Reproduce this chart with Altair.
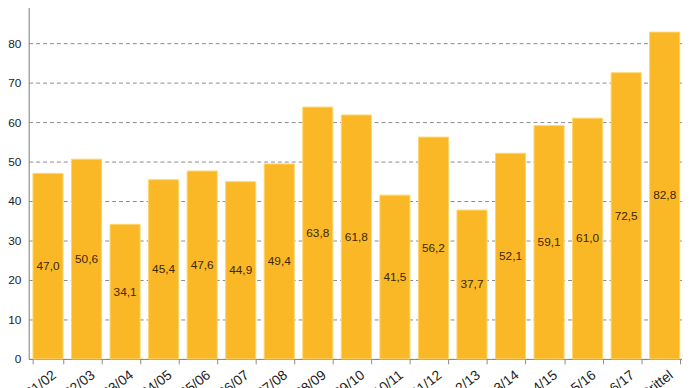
import altair as alt
import pandas as pd

seasons = ["2001/02", "2002/03", "2003/04", "2004/05", "2005/06", "2006/07",
           "2007/08", "2008/09", "2009/10", "2010/11", "2011/12", "2012/13",
           "2013/14", "2014/15", "2015/16", "2016/17", "Drittel"]
values = [47.0, 50.6, 34.1, 45.4, 47.6, 44.9, 49.4, 63.8, 61.8, 41.5,
          56.2, 37.7, 52.1, 59.1, 61.0, 72.5, 82.8]
y_ticks = [0, 10, 20, 30, 40, 50, 60, 70, 80, 90]

df = pd.DataFrame({
    "season": seasons,
    "value": values,
    "label": [f"{v:.1f}".replace(".", ",") for v in values],
})
df["half"] = df["value"] / 2

xscale = alt.Scale(paddingInner=0.22, paddingOuter=0.11, range=[0, 664])
yscale = alt.Scale(domain=[0, 90], nice=False, zero=True)

x_axis = alt.Axis(labelAngle=-38, tickBand="extent", labelFontSize=14,
                  labelColor="#222", labelFont="Liberation Sans",
                  domainColor="#888", tickColor="#888", tickSize=5,
                  labelPadding=4, labelOffset=2, grid=False, labelOverlap=False)

y_axis = alt.Axis(values=y_ticks, grid=True,
                  gridDash=[4, 3], gridColor="#8a8a8a", gridWidth=1,
                  ticks=False, labelPadding=8, labelFontSize=12,
                  labelColor="#222", labelFont="Liberation Sans",
                  domainColor="#888", labelOverlap=False)

bars = alt.Chart(df).mark_bar(color="#FAB826", stroke="#FCD56A", strokeWidth=1).encode(
    x=alt.X("season:N", sort=seasons, scale=xscale, title=None, axis=x_axis),
    y=alt.Y("value:Q", scale=yscale, title=None, axis=y_axis),
)

text = alt.Chart(df).mark_text(fontSize=12, color="#3a2806",
                               font="Liberation Sans").encode(
    x=alt.X("season:N", sort=seasons, scale=xscale, title=None, axis=x_axis),
    y=alt.Y("half:Q", scale=yscale, title=None, axis=y_axis),
    text="label:N",
)

chart = (bars + text).properties(
    width=662, height=360,
    autosize=alt.AutoSizeParams(type="none"),
    padding={"left": 21, "top": -7, "right": 0, "bottom": 40},
).configure_view(stroke=None).configure(background="white")

chart.save("out.html", embed_options={"renderer": "svg", "actions": False})
